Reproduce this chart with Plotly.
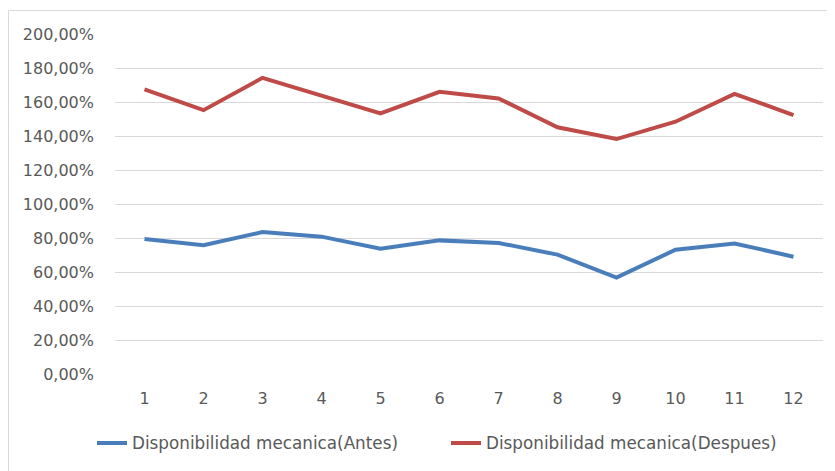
import plotly.graph_objects as go

periodos = list(range(1, 13))
antes = [79.4, 75.7, 83.5, 80.8, 73.7, 78.6, 77.1, 70.2, 56.7, 73.1, 76.8, 69.0]
despues = [167.4, 155.2, 174.2, 163.8, 153.3, 166.0, 162.1, 145.1, 138.2, 148.4, 164.8, 152.3]
nombres = ["Disponibilidad mecanica(Antes)", "Disponibilidad mecanica(Despues)"]
colores = ["#4A7EBB", "#BE4B48"]

# page has an 8px body margin, so the figure is drawn 8px in from the window edge
W, H = 827, 463
L, R, T, B = 107, 12, 26, 96
pw, ph = W - L - R, H - T - B

fig = go.Figure()
fig.add_trace(go.Scatter(x=periodos, y=antes, mode="lines", name=nombres[0],
                         line=dict(color=colores[0], width=4)))
fig.add_trace(go.Scatter(x=periodos, y=despues, mode="lines", name=nombres[1],
                         line=dict(color=colores[1], width=4)))

font = dict(family="'DejaVu Sans', sans-serif", size=16, color="#595959")
legfont = dict(family="'DejaVu Sans', sans-serif", size=16.8, color="#595959")

fig.update_layout(
    width=W, height=H,
    margin=dict(l=L, r=R, t=T, b=B),
    paper_bgcolor="white", plot_bgcolor="white",
    separators=",.",
    font=font,
    showlegend=True,
    legend=dict(orientation="h", x=(84 - L) / pw, xanchor="left",
                y=(H - B - 435) / ph, yanchor="middle",
                font=legfont, entrywidth=309, entrywidthmode="pixels"),
    xaxis=dict(range=[0.5, 12.5], tickmode="array", tickvals=periodos,
               ticktext=[str(p) for p in periodos], showgrid=False,
               zeroline=False, showline=False, ticks="", ticklabelstandoff=13),
    yaxis=dict(range=[0, 200], dtick=20, tickformat=".2f", ticksuffix="%",
               showgrid=True, gridcolor="#D9D9D9", gridwidth=1,
               zeroline=False, showline=False, ticks="", ticklabelstandoff=20),
    shapes=[dict(type="rect", xref="paper", yref="paper",
                 x0=(0.5 - L) / pw, x1=(W + 10 - L) / pw,
                 y0=(H - B - (H + 10)) / ph, y1=(H - B - 2.5) / ph,
                 line=dict(color="#D9D9D9", width=1), layer="below")],
)

fig.write_html("out.html")
